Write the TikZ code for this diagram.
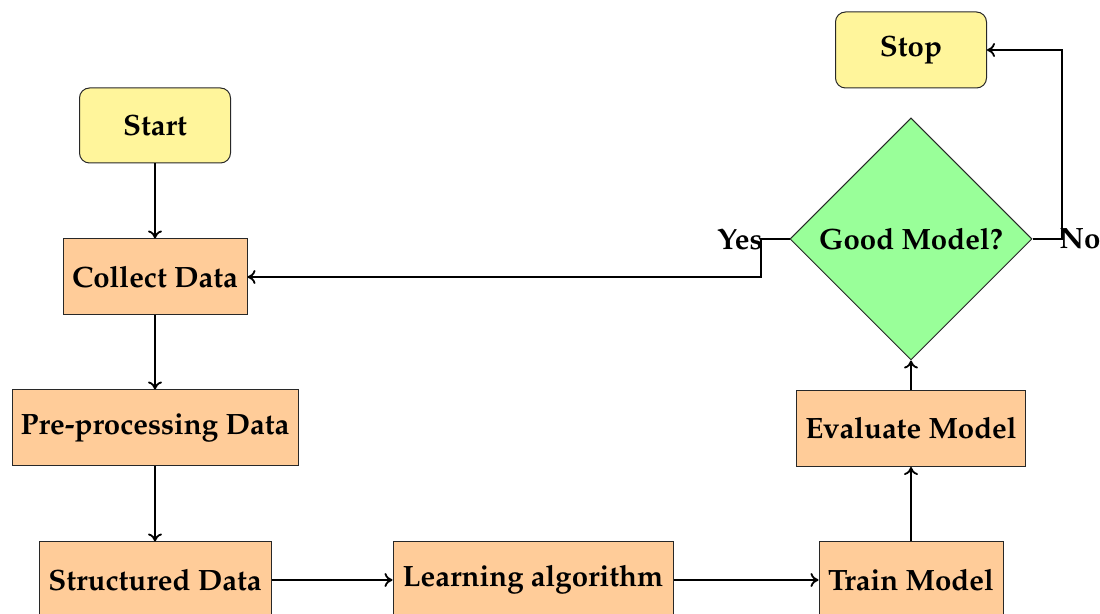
\documentclass[tikz,border=0pt]{standalone}
\usepackage[T1]{fontenc}
\usepackage{mathpazo}
\usetikzlibrary{shapes.geometric,arrows.meta}
\definecolor{termfill}{RGB}{255,245,155}
\definecolor{procfill}{RGB}{255,204,153}
\definecolor{decfill}{RGB}{153,255,153}
\definecolor{bordergray}{RGB}{40,40,40}
\tikzset{
  base/.style={draw=bordergray, line width=0.5pt, font=\fontsize{14.7}{17}\selectfont\bfseries, align=center, inner sep=2pt},
  term/.style={base, fill=termfill, rounded corners=5pt, minimum width=75.5pt, minimum height=37.5pt},
  proc/.style={base, fill=procfill, minimum height=38pt},
  dec/.style={base, diamond, fill=decfill, minimum width=121pt, minimum height=121pt, inner sep=0pt},
  conn/.style={line width=0.9pt, -{Computer Modern Rightarrow[length=4pt,width=7pt]}},
  lbl/.style={font=\fontsize{14.7}{17}\selectfont\bfseries, inner sep=0pt}
}
\begin{document}
\begin{tikzpicture}[x=0.5pt, y=-0.5pt]
\useasboundingbox (0,0) rectangle (1100,614);
\node[term] (start) at (155,125.5) {Start};
\node[proc, minimum width=92pt] (collect) at (155,277) {Collect Data};
\node[proc, minimum width=143pt] (pre) at (155,428) {Pre-processing Data};
\node[proc, minimum width=116pt] (struct) at (155,580) {Structured Data};
\node[proc, minimum width=140pt] (learn) at (533,580) {Learning algorithm};
\node[proc, minimum width=92pt] (train) at (911,580) {Train Model};
\node[proc, minimum width=114.5pt] (eval) at (911,428.5) {Evaluate Model};
\node[dec] (good) at (911,239) {Good Model?};
\node[term, minimum height=38pt] (stop) at (911,50) {Stop};
\coordinate (yescorner) at (761,239);
\coordinate (nocorner) at (1062,239);
\draw[conn] (start) -- (collect);
\draw[conn] (collect) -- (pre);
\draw[conn] (pre) -- (struct);
\draw[conn] (struct) -- (learn);
\draw[conn] (learn) -- (train);
\draw[conn] (train) -- (eval);
\draw[conn] (eval) -- (good);
\draw[conn] (good.west) -- (yescorner) |- (collect.east);
\draw[conn] (good.east) -- (nocorner) |- (stop.east);
\node[lbl] (yes) at (740,239) {Yes};
\node[lbl] (no) at (1080,239) {No};
\end{tikzpicture}
\end{document}
